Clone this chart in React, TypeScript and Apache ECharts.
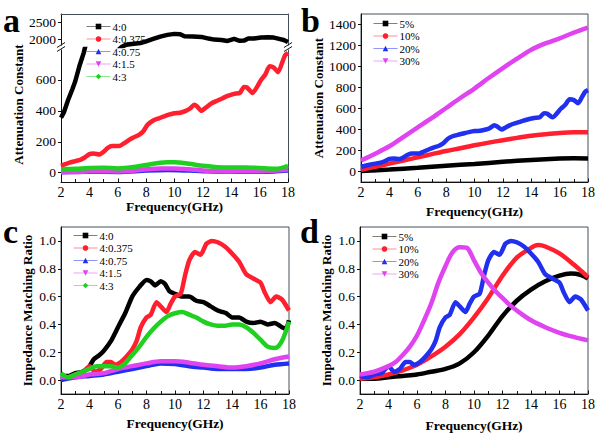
import React, { useEffect, useRef } from "react";
import * as echarts from "echarts";

// ---------- data ----------
const namesA = ["4:0", "4:0.375", "4:0.75", "4:1.5", "4:3"];
const namesB = ["5%", "10%", "20%", "30%"];
const xTickValues = [2, 4, 6, 8, 10, 12, 14, 16, 18];
const yTicksAUpper = [2000, 2500];
const yTicksALower = [0, 200, 400, 600];
const yTicksB = [0, 200, 400, 600, 800, 1000, 1200, 1400];
const yTicksCD = [0, 0.2, 0.4, 0.6, 0.8, 1.0];

// panel a : attenuation constant
const att_4_0 = [[2,355],[2.2,390],[2.5,470],[2.8,540],[3,590],[3.3,690],[3.6,775],[6.3,1780],[6.6,1840],[7,1860],[7.6,1890],[8,1940],[8.5,2010],[9,2080],[9.5,2130],[10,2160],[10.4,2150],[10.7,2090],[11.3,2080],[11.9,2070],[12.4,2020],[12.8,1990],[13.3,1980],[13.75,1950],[14.2,2010],[14.6,1955],[14.9,1960],[15.2,2020],[15.6,2020],[16.1,2050],[16.6,2060],[17,2050],[17.3,2020],[17.7,1980],[18,1920]];
const att_4_0375 = [[2,45],[2.3,55],[2.6,65],[3,75],[3.4,85],[3.7,100],[4,120],[4.3,125],[4.7,118],[5,135],[5.3,160],[5.6,172],[6.1,172],[6.4,188],[6.8,212],[7.1,228],[7.5,245],[7.8,268],[8.1,310],[8.5,338],[8.9,352],[9.2,362],[9.6,375],[10,385],[10.4,388],[10.8,400],[11.1,415],[11.4,440],[11.6,428],[11.9,400],[12.2,420],[12.6,448],[13,465],[13.4,482],[13.8,498],[14.2,510],[14.6,516],[14.9,555],[15.1,552],[15.5,516],[16.1,600],[16.4,635],[16.7,688],[17,680],[17.3,650],[17.6,715],[17.8,760],[18,775]];
const att_4_075 = [[2,3],[4,6],[6,5],[8,14],[9.5,18],[11,14],[12,10],[14,6],[16,6],[17,8],[18,14]];
const att_4_15 = [[2,4],[3,4],[4,10],[5,10],[6,8],[7,12],[8,22],[9,28],[10,28],[11,22],[12,15],[13,10],[14,8],[15,10],[16,10],[17,12],[18,20]];
const att_4_3 = [[2,22],[3,25],[4,30],[5,32],[6,28],[7,35],[8,50],[9,65],[9.5,68],[10,68],[11,58],[12,45],[13,36],[14,33],[15,34],[16,30],[17,26],[17.5,30],[18,45]];

// panel b : attenuation constant
const att_5 = [[2,5],[4,18],[6,35],[8,55],[10,72],[12,92],[14,110],[16,123],[17,126],[18,124]];
const att_10 = [[2,15],[3,45],[4,75],[5,105],[6,135],[7,165],[8,195],[9,222],[10,250],[11,275],[12,298],[13,320],[14,340],[15,355],[16,367],[17,373],[18,373]];
const att_30 = [[2,105],[3,170],[4,240],[5,330],[6,420],[7,510],[8,605],[9,700],[10,790],[11,890],[12,985],[13,1075],[14,1160],[15,1220],[16,1268],[17,1322],[18,1370]];

// panel c / d : impedance matching ratio
const imp_4_0 = [[2,0.03],[2.5,0.03],[3,0.05],[3.5,0.06],[4,0.1],[4.3,0.15],[4.7,0.18],[5,0.21],[5.5,0.28],[6,0.38],[6.5,0.48],[7,0.6],[7.5,0.67],[8,0.72],[8.3,0.71],[8.6,0.68],[9,0.71],[9.3,0.69],[9.6,0.64],[10,0.62],[10.5,0.6],[11,0.6],[11.5,0.57],[12,0.56],[12.5,0.53],[13,0.5],[13.3,0.49],[13.6,0.48],[14,0.45],[14.5,0.45],[15,0.42],[15.5,0.41],[16,0.42],[16.5,0.4],[17,0.41],[17.5,0.38],[17.8,0.37],[18,0.43]];
const imp_4_0375 = [[2,0.03],[2.5,0.02],[3,0.04],[3.5,0.05],[4,0.1],[4.4,0.06],[4.8,0.08],[5.2,0.13],[5.5,0.13],[5.8,0.11],[6.2,0.13],[6.6,0.17],[7,0.22],[7.3,0.28],[7.6,0.38],[8,0.45],[8.3,0.47],[8.7,0.56],[9,0.53],[9.4,0.49],[9.7,0.55],[10,0.6],[10.4,0.62],[10.7,0.75],[11,0.86],[11.4,0.92],[11.8,0.9],[12.2,0.98],[12.6,1.0],[13,0.99],[13.5,0.96],[14,0.91],[14.5,0.85],[15,0.76],[15.5,0.73],[16,0.7],[16.3,0.63],[16.7,0.56],[17.1,0.6],[17.5,0.58],[18,0.5]];
const imp_4_075 = [[2,0.0],[3,0.02],[4,0.03],[5,0.04],[6,0.06],[7,0.08],[8,0.1],[9,0.12],[10,0.115],[11,0.1],[12,0.09],[13,0.08],[14,0.08],[15,0.08],[16,0.09],[17,0.11],[18,0.12]];
const imp_4_15 = [[2,0.02],[3,0.02],[4,0.04],[5,0.05],[6,0.08],[7,0.1],[8,0.12],[9,0.135],[10,0.135],[11,0.125],[12,0.11],[13,0.1],[14,0.09],[15,0.1],[16,0.12],[17,0.15],[18,0.17]];
const imp_4_3 = [[2,0.05],[2.5,0.02],[3,0.04],[3.5,0.06],[4,0.08],[4.5,0.1],[5,0.1],[5.5,0.1],[6,0.09],[6.5,0.12],[7,0.18],[7.5,0.24],[8,0.31],[8.5,0.37],[9,0.42],[9.5,0.46],[10,0.48],[10.5,0.49],[11,0.47],[11.5,0.45],[12,0.42],[12.5,0.4],[13,0.39],[13.5,0.39],[14,0.4],[14.5,0.4],[15,0.38],[15.5,0.34],[16,0.29],[16.5,0.24],[17,0.23],[17.5,0.28],[18,0.42]];
const imp_5 = [[2,0.01],[3,0.01],[4,0.02],[5,0.03],[6,0.04],[7,0.06],[8,0.08],[9,0.12],[10,0.2],[11,0.32],[12,0.46],[13,0.57],[14,0.65],[15,0.71],[16,0.75],[16.8,0.765],[17.5,0.755],[18,0.73]];
const imp_10 = [[2,0.01],[3,0.02],[4,0.04],[5,0.07],[6,0.11],[7,0.17],[8,0.24],[9,0.33],[10,0.45],[11,0.59],[12,0.75],[13,0.88],[14,0.95],[14.5,0.97],[15,0.96],[16,0.91],[17,0.83],[18,0.74]];
const imp_30 = [[2,0.04],[3,0.06],[4,0.1],[4.5,0.13],[5,0.18],[5.5,0.24],[6,0.32],[6.5,0.43],[7,0.55],[7.5,0.7],[8,0.82],[8.5,0.92],[9,0.955],[9.5,0.95],[10,0.86],[10.5,0.77],[11,0.7],[11.5,0.64],[12,0.59],[12.5,0.54],[13,0.5],[14,0.43],[15,0.38],[16,0.34],[17,0.31],[18,0.285]];

// ---------- style ----------
const FONT = "Liberation Serif, Times New Roman, serif";
const C_BLACK = "#000000";
const C_RED = "#ff1f2f";
const C_BLUE = "#2030ee";
const C_MAG = "#e044f0";
const C_GREEN = "#20d020";
const FRAME = "#46505a";

const sym: Record<string, [string, number]> = {
  rect: ["rect", 0],
  circle: ["circle", 0],
  up: ["triangle", 0],
  down: ["triangle", 180],
  diamond: ["diamond", 0],
};

function line(name: string, data: number[][], color: string, s: string, xi: number, yi: number, smooth: number | boolean = 0.3) {
  return {
    type: "line",
    name,
    data,
    xAxisIndex: xi,
    yAxisIndex: yi,
    symbol: sym[s][0],
    symbolRotate: sym[s][1],
    showSymbol: false,
    smooth,
    clip: true,
    lineStyle: { color, width: 4.5 },
    itemStyle: { color },
    emphasis: { disabled: true },
  };
}

function xAxis(gridIndex: number, nameGap: number) {
  return {
    type: "value",
    gridIndex,
    min: 2,
    max: 18,
    interval: 2,
    name: "Frequency(GHz)",
    nameLocation: "middle",
    nameGap,
    nameTextStyle: { fontFamily: FONT, fontWeight: "bold", fontSize: 13.5, color: "#000" },
    axisLine: { show: true, onZero: false, lineStyle: { color: "#111", width: 1 } },
    axisTick: { show: true, inside: true, length: 3.5, lineStyle: { color: "#111" }, customValues: xTickValues },
    minorTick: { show: true, splitNumber: 2, length: 3, lineStyle: { color: "#111" } },
    axisLabel: { fontFamily: FONT, fontSize: 14, color: "#000", margin: 3, customValues: xTickValues },
    splitLine: { show: false },
  };
}

function yAxis(gridIndex: number, min: number, max: number, ticks: number[], name: string, nameGap: number, dec: number, shift = 0) {
  return {
    type: "value",
    gridIndex,
    min,
    max,
    name,
    nameLocation: "middle",
    nameGap,
    nameTextStyle: {
      fontFamily: FONT,
      fontWeight: "bold",
      fontSize: 13,
      color: "#000",
      padding: [0, 0, 0, shift],
    },
    axisLine: { show: true, onZero: false, lineStyle: { color: "#111", width: 1 } },
    axisTick: { show: true, inside: false, length: 3, lineStyle: { color: "#111" }, customValues: ticks },
    axisLabel: {
      fontFamily: FONT,
      fontSize: 13.5,
      color: "#000",
      margin: 5,
      customValues: ticks,
      formatter: (v: number) => v.toFixed(dec),
    },
    splitLine: { show: false },
  };
}

function frameAxisY(gridIndex: number) {
  return {
    type: "value",
    gridIndex,
    position: "right",
    min: 0,
    max: 1,
    axisLine: { show: true, onZero: false, lineStyle: { color: FRAME, width: 1 } },
    axisTick: { show: false },
    axisLabel: { show: false },
    splitLine: { show: false },
  };
}

function legend(names: string[], left: number, top: number) {
  return {
    orient: "vertical",
    left,
    top,
    itemWidth: 24,
    itemHeight: 7,
    itemGap: 1.5,
    padding: 0,
    data: names,
    selectedMode: false,
    textStyle: { fontFamily: FONT, fontSize: 11, color: "#000", padding: [0, 0, 0, -3] },
    lineStyle: { width: 1, opacity: 0.5 },
  };
}

function panelLabel(text: string, x: number, y: number) {
  return {
    type: "text",
    left: x,
    top: y,
    style: { text, fontFamily: FONT, fontWeight: "bold", fontSize: 34, fill: "#000" },
  };
}

function breakMark(x: number) {
  return [
    { type: "rect", shape: { x: x - 5, y: 45.5, width: 10, height: 4 }, style: { fill: "#fff" }, z: 100 },
    { type: "line", shape: { x1: x - 4, y1: 47.5, x2: x + 4, y2: 42.5 }, style: { stroke: "#111", lineWidth: 1 }, z: 101 },
    { type: "line", shape: { x1: x - 4, y1: 51.5, x2: x + 4, y2: 46.5 }, style: { stroke: "#111", lineWidth: 1 }, z: 101 },
  ];
}

export default function App() {
  const ref = useRef<HTMLDivElement>(null);
  useEffect(() => {
    if (!ref.current) return;
    const chart = echarts.init(ref.current, undefined, { renderer: "svg" });
    const option = {
      animation: false,
      backgroundColor: "#fff",
      textStyle: { fontFamily: FONT },
      grid: [
        { left: 61, top: 14, width: 227, height: 32, show: false },
        { left: 61, top: 49, width: 227, height: 133, show: false },
        { left: 361, top: 14, width: 227, height: 168, show: true, borderColor: FRAME, borderWidth: 1 },
        { left: 61, top: 227, width: 228, height: 167, show: true, borderColor: FRAME, borderWidth: 1 },
        { left: 360, top: 227, width: 230, height: 167, show: true, borderColor: FRAME, borderWidth: 1 },
      ],
      xAxis: [
        {
          type: "value",
          gridIndex: 0,
          min: 2,
          max: 18,
          position: "top",
          axisLine: { show: true, onZero: false, lineStyle: { color: FRAME, width: 1 } },
          axisTick: { show: false },
          axisLabel: { show: false },
          splitLine: { show: false },
        },
        xAxis(1, 16),
        xAxis(2, 22),
        xAxis(3, 22),
        xAxis(4, 24),
      ],
      yAxis: [
        { ...yAxis(0, 1800, 2750, yTicksAUpper, "", 0, 0), name: "" },
        frameAxisY(0),
        yAxis(1, -60, 800, yTicksALower, "Attenuation Constant", 36, 0, 22),
        frameAxisY(1),
        yAxis(2, -100, 1500, yTicksB, "Attenuation Constant", 36, 0),
        yAxis(3, -0.1, 1.1, yTicksCD, "Impedance Matching Ratio", 27, 1),
        yAxis(4, -0.1, 1.1, yTicksCD, "Impedance Matching Ratio", 27, 1),
      ],
      legend: [
        legend(namesA, 86, 21),
        legend(namesB, 373, 18),
        legend(namesA, 73, 230),
        legend(namesB, 372, 231),
      ],
      series: [
        // a
        line("4:0", att_4_0, C_BLACK, "rect", 0, 0, false),
        line("4:0", att_4_0, C_BLACK, "rect", 1, 2, false),
        line("4:0.375", att_4_0375, C_RED, "circle", 1, 2, 0.2),
        line("4:0.75", att_4_075, C_BLUE, "up", 1, 2),
        line("4:1.5", att_4_15, C_MAG, "down", 1, 2),
        line("4:3", att_4_3, C_GREEN, "diamond", 1, 2),
        // b
        line("5%", att_5, C_BLACK, "rect", 2, 4),
        line("10%", att_10, C_RED, "circle", 2, 4),
        line("20%", att_4_0375, C_BLUE, "up", 2, 4, 0.2),
        line("30%", att_30, C_MAG, "down", 2, 4),
        // c
        line("4:0", imp_4_0, C_BLACK, "rect", 3, 5, 0.2),
        line("4:0.375", imp_4_0375, C_RED, "circle", 3, 5, 0.2),
        line("4:0.75", imp_4_075, C_BLUE, "up", 3, 5),
        line("4:1.5", imp_4_15, C_MAG, "down", 3, 5),
        line("4:3", imp_4_3, C_GREEN, "diamond", 3, 5),
        // d
        line("5%", imp_5, C_BLACK, "rect", 4, 6),
        line("10%", imp_10, C_RED, "circle", 4, 6),
        line("20%", imp_4_0375, C_BLUE, "up", 4, 6, 0.2),
        line("30%", imp_30, C_MAG, "down", 4, 6),
      ],
      graphic: [
        panelLabel("a", 3, 3),
        panelLabel("b", 301, 3),
        panelLabel("c", 3, 214),
        panelLabel("d", 300, 214),
        ...breakMark(61),
        ...breakMark(288),
      ],
    };
    chart.setOption(option as any);
    return () => chart.dispose();
  }, []);
  return <div ref={ref} style={{ position: "absolute", left: 0, top: 0, width: 598, height: 434 }} />;
}
